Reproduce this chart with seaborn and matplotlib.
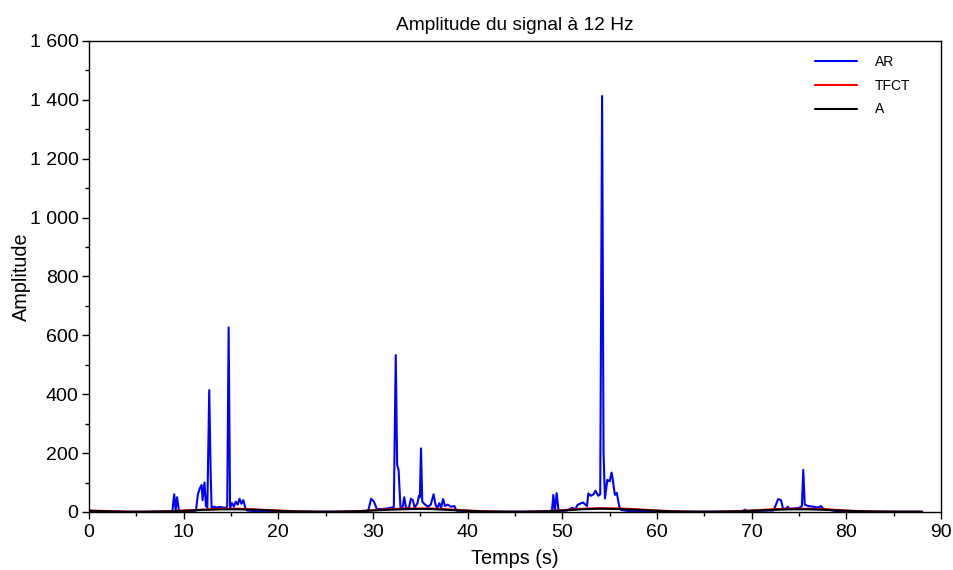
import matplotlib
matplotlib.use("Agg")
import matplotlib.pyplot as plt
import matplotlib.ticker as mticker
import numpy as np
import pandas as pd
import seaborn as sns

# AR estimate (blue), irregular sampling
ar_t = [0, 2, 4, 6, 8, 8.8, 9.0, 9.15, 9.3, 9.5, 10, 11, 11.3, 11.5, 11.7, 11.9, 12.0,
        12.2, 12.35, 12.5, 12.7, 12.85, 12.95, 13.2, 13.5, 13.8, 14.2, 14.5, 14.6, 14.75,
        14.9, 15.1, 15.3, 15.5, 15.7, 15.9, 16.1, 16.3, 16.5, 16.7, 17.5, 20, 25, 29, 29.5,
        29.8, 30.1, 30.4, 31, 31.5, 32, 32.2, 32.4, 32.55, 32.7, 32.9, 33.1, 33.3, 33.5,
        33.8, 34.0, 34.2, 34.4, 34.7, 34.85, 34.95, 35.07, 35.2, 35.5, 35.8, 36.1, 36.4,
        36.6, 36.8, 37.0, 37.2, 37.4, 37.6, 37.9, 38.2, 38.6, 38.8, 40, 45, 48.5, 48.9,
        49.05, 49.2, 49.4, 49.6, 50.5, 51.0, 51.4, 51.6, 52.0, 52.2, 52.6, 52.75, 53.0,
        53.3, 53.5, 53.8, 54.0, 54.2, 54.35, 54.5, 54.75, 55.0, 55.2, 55.3, 55.55, 55.75,
        56.0, 56.2, 57, 60, 65, 69.0, 69.3, 69.5, 71, 72.3, 72.5, 72.8, 73.1, 73.3, 73.6,
        73.8, 74.0, 74.5, 75.0, 75.3, 75.45, 75.6, 76, 76.5, 77, 77.3, 77.6, 78.0, 78.6,
        79, 82, 85, 88]
ar_v = [1, 1, 0.5, 1, 2, 2, 60, 5, 50, 3, 2, 3, 5, 60, 80, 92, 40,
        100, 20, 15, 414, 130, 15, 18, 15, 17, 15, 14, 20, 627,
        15, 30, 18, 35, 25, 45, 28, 40, 15, 5, 3, 2, 1, 2, 5,
        45, 35, 10, 10, 12, 15, 18, 533, 160, 143, 15, 10, 50, 12,
        15, 45, 40, 15, 30, 55, 50, 216, 35, 25, 18, 25, 60,
        25, 12, 30, 15, 44, 20, 25, 18, 20, 5, 2, 1, 2, 5,
        58, 3, 64, 3, 5, 14, 10, 24, 30, 32, 20, 63, 55,
        60, 72, 55, 60, 1413, 200, 46, 109, 104, 134, 115, 58, 65,
        20, 7, 3, 2, 1, 2, 8, 2, 4, 5, 20, 44, 40, 12, 10,
        18, 10, 12, 14, 20, 143, 25, 20, 18, 15, 20, 10, 8, 5,
        2, 1, 1, 1]

# TFCT (red) and A (black): smooth low curves, every 2 s
smooth_t = list(range(0, 90, 2))
tfct_v = [5, 3, 1, 0.5, 2, 5, 8, 11, 11, 8, 5, 2, 0.5, 0.5, 2, 6, 10, 12, 12, 9, 5, 2, 0.5,
          0.5, 2, 6, 11, 13, 12, 9, 5, 2, 0.5, 0.5, 2, 5, 9, 11, 11, 9, 5, 2, 1, 0.5, 0.5]
a_v = [4, 2, 0.5, 0.5, 1.5, 4, 7, 9, 9, 7, 4, 1.5, 0.5, 0.5, 2, 5, 8, 10, 10, 7, 4, 1.5, 0.5,
       0.5, 2, 5, 9, 11, 10, 7, 4, 1.5, 0.5, 0.5, 1.5, 4, 7, 9, 9, 7, 4, 2, 1, 0.5, 0.5]

sns.set_style("ticks")
plt.rcParams["font.family"] = ["Liberation Sans", "DejaVu Sans"]
plt.rcParams["text.color"] = "black"
plt.rcParams["axes.labelcolor"] = "black"
plt.rcParams["xtick.color"] = "black"
plt.rcParams["ytick.color"] = "black"

fig = plt.figure(figsize=(9.54, 5.70), dpi=100)
ax = fig.add_axes([0.0933, 0.1018, 0.8931, 0.8263])

ar = pd.DataFrame({"t": ar_t, "v": ar_v})
sm = pd.DataFrame({"t": smooth_t, "tfct": tfct_v, "a": a_v})
sns.lineplot(data=ar, x="t", y="v", color="#0000ff", lw=1.5, label="AR", ax=ax)
sns.lineplot(data=sm, x="t", y="tfct", color="#ff0000", lw=1.5, label="TFCT", ax=ax)
sns.lineplot(data=sm, x="t", y="a", color="black", lw=1.5, label="A", ax=ax)

ax.set_xlim(0, 90)
ax.set_ylim(0, 1600)
ax.xaxis.set_major_locator(mticker.MultipleLocator(10))
ax.xaxis.set_minor_locator(mticker.MultipleLocator(5))
ax.yaxis.set_major_locator(mticker.MultipleLocator(200))
ax.yaxis.set_minor_locator(mticker.MultipleLocator(100))
ax.yaxis.set_major_formatter(mticker.FuncFormatter(lambda v, p: f"{int(v):,}".replace(",", " ")))
ax.tick_params(axis="both", which="major", labelsize=14, length=5, width=1, direction="out",
               colors="black")
ax.tick_params(axis="y", which="major", pad=2.5)
ax.tick_params(axis="both", which="minor", length=3, width=1, direction="out")
for s in ax.spines.values():
    s.set_linewidth(1)
    s.set_color("black")

ax.set_title("Amplitude du signal à 12 Hz", fontsize=13.8, pad=8)
ax.set_xlabel("Temps (s)", fontsize=14.3, labelpad=6)
ax.set_ylabel("Amplitude", fontsize=14.3, labelpad=-1)
ax.legend(loc="upper right", bbox_to_anchor=(0.9707, 0.982), borderaxespad=0,
          frameon=False, fontsize=10, handlelength=3.0, handletextpad=1.3,
          labelspacing=0.7)

fig.savefig("out.png", dpi=100)
